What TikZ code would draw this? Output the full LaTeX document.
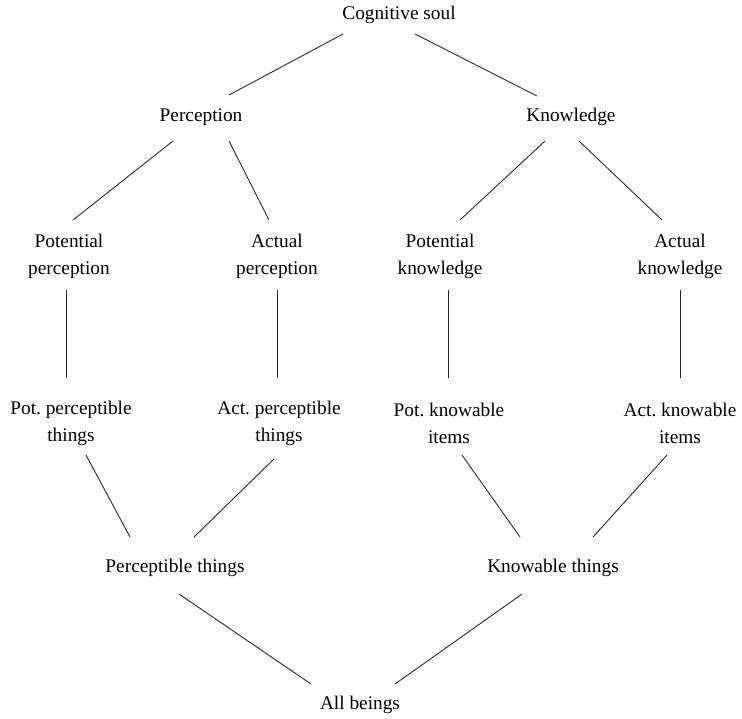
\documentclass[tikz,border=0pt]{standalone}
\usepackage{fontspec}
\setmainfont{Liberation Serif}
\usetikzlibrary{calc}
\frenchspacing
\tikzset{item/.style={align=center,inner sep=0pt,font=\fontsize{11}{15.3}\selectfont}}
\newcommand{\drawlink}{\draw[line width=0.5pt,black!85]}
\begin{document}
\begin{tikzpicture}[x=0.02cm,y=-0.02cm]
\useasboundingbox (0,0) rectangle (742,718);
\node[item] (cog) at (399,15) {Cognitive soul};
\node[item] (perc) at (201,117) {Perception};
\node[item] (know) at (571,117) {Knowledge};
\node[item] (ppot) at (69,256) {Potential\\perception};
\node[item] (pact) at (277,256) {Actual\\perception};
\node[item] (kpot) at (440,256) {Potential\\knowledge};
\node[item] (kact) at (680,256) {Actual\\knowledge};
\node[item] (ppt) at (71,423) {Pot. perceptible\\things};
\node[item] (apt) at (279,423) {Act. perceptible\\things};
\node[item] (pki) at (449,423) {Pot. knowable\\items};
\node[item] (aki) at (680,423) {Act. knowable\\items};
\node[item] (pthings) at (175,568) {Perceptible things};
\node[item] (kthings) at (553,568) {Knowable things};
\node[item] (all) at (360,705) {All beings};
\drawlink ($(cog)+(-56,19)$) -- ($(perc)+(28,-22)$);
\drawlink ($(cog)+(16,19)$) -- ($(know)+(-34,-21)$);
\drawlink ($(perc)+(-28,24)$) -- ($(ppot)+(4,-36)$);
\drawlink ($(perc)+(28,24)$) -- ($(pact)+(-8,-36)$);
\drawlink ($(know)+(-26,24)$) -- ($(kpot)+(20,-36)$);
\drawlink ($(know)+(8,24)$) -- ($(kact)+(-18,-36)$);
\drawlink ($(ppot)+(-3,34)$) -- ($(ppt)+(-5,-45)$);
\drawlink ($(pact)+(0,34)$) -- ($(apt)+(-2,-45)$);
\drawlink ($(kpot)+(8,34)$) -- ($(pki)+(-1,-45)$);
\drawlink ($(kact)+(0,34)$) -- ($(aki)+(0,-45)$);
\drawlink ($(ppt)+(15,32)$) -- ($(pthings)+(-45,-31)$);
\drawlink ($(apt)+(-5,36)$) -- ($(pthings)+(19,-31)$);
\drawlink ($(pki)+(13,32)$) -- ($(kthings)+(-33,-31)$);
\drawlink ($(aki)+(-13,32)$) -- ($(kthings)+(40,-31)$);
\drawlink ($(pthings)+(4,26)$) -- ($(all)+(-49,-21)$);
\drawlink ($(kthings)+(-31,26)$) -- ($(all)+(35,-21)$);
\end{tikzpicture}
\end{document}
